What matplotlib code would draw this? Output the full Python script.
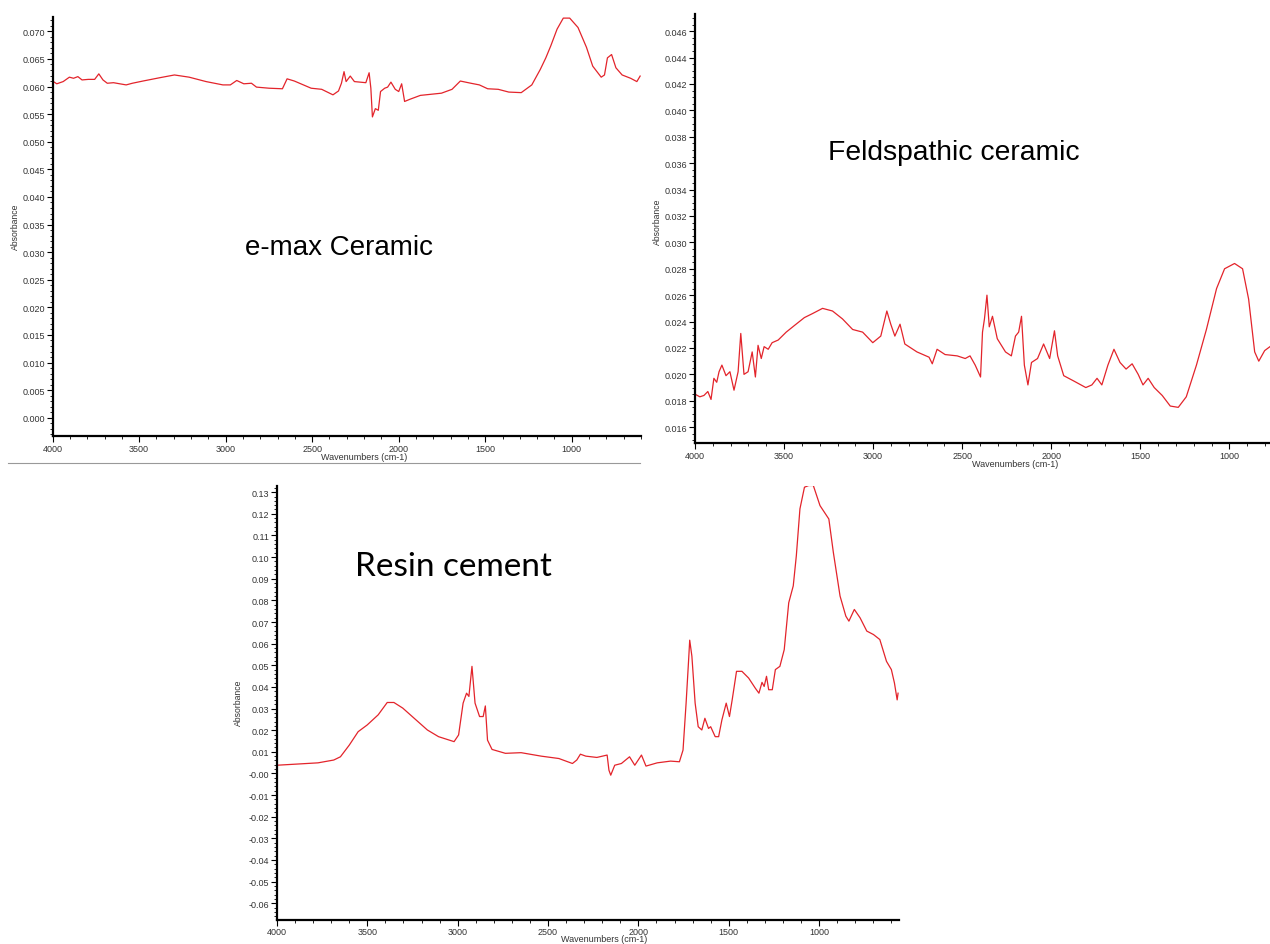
import matplotlib.pyplot as plt
from matplotlib.ticker import FixedLocator, FixedFormatter, MultipleLocator
from matplotlib.lines import Line2D

plt.rcParams['font.family'] = ['Liberation Sans', 'DejaVu Sans']

# e-max ceramic spectrum
wn1 = [4000, 3976, 3939, 3903, 3879, 3854, 3830, 3794, 3757, 3733,
       3709, 3684, 3648, 3612, 3575, 3539, 3478, 3381, 3296, 3211,
       3113, 3016, 2973, 2936, 2895, 2851, 2822, 2749, 2672, 2645,
       2603, 2506, 2445, 2380, 2348, 2331, 2316, 2304, 2280, 2256,
       2190, 2171, 2161, 2152, 2135, 2118, 2105, 2081, 2064, 2045,
       2020, 2000, 1983, 1966, 1935, 1875, 1753, 1692, 1644, 1583,
       1534, 1486, 1425, 1364, 1292, 1231, 1182, 1150, 1121, 1085,
       1049, 1012, 964, 915, 879, 830, 811, 794, 770, 745,
       709, 660, 624, 605]
ab1 = [0.0610, 0.0605, 0.0609, 0.0617, 0.0615, 0.0618, 0.0612, 0.0613, 0.0613, 0.0623,
       0.0612, 0.0606, 0.0607, 0.0605, 0.0603, 0.0606, 0.0610, 0.0616, 0.0621, 0.0617,
       0.0609, 0.0603, 0.0603, 0.0611, 0.0605, 0.0606, 0.0599, 0.0597, 0.0596, 0.0614,
       0.0610, 0.0597, 0.0595, 0.0585, 0.0592, 0.0606, 0.0627, 0.0609, 0.0619, 0.0609,
       0.0607, 0.0625, 0.0597, 0.0545, 0.0560, 0.0557, 0.0591, 0.0597, 0.0599, 0.0608,
       0.0595, 0.0591, 0.0605, 0.0573, 0.0577, 0.0584, 0.0588, 0.0595, 0.0610, 0.0606,
       0.0603, 0.0596, 0.0595, 0.0590, 0.0589, 0.0603, 0.0631, 0.0652, 0.0674, 0.0704,
       0.0724, 0.0724, 0.0707, 0.0671, 0.0637, 0.0617, 0.0621, 0.0652, 0.0658, 0.0634,
       0.0621, 0.0615, 0.0609, 0.0619]

# feldspathic ceramic spectrum
wn2 = [4000, 3973, 3950, 3928, 3910, 3894, 3878, 3865, 3849, 3826,
       3804, 3781, 3758, 3743, 3725, 3702, 3679, 3661, 3646, 3628,
       3612, 3589, 3567, 3533, 3488, 3442, 3386, 3341, 3284, 3228,
       3172, 3115, 3059, 3002, 2957, 2923, 2901, 2878, 2849, 2822,
       2754, 2686, 2668, 2641, 2596, 2528, 2483, 2456, 2427, 2397,
       2386, 2375, 2361, 2348, 2330, 2303, 2257, 2224, 2201, 2183,
       2167, 2151, 2131, 2111, 2077, 2043, 2009, 1982, 1964, 1930,
       1874, 1806, 1772, 1743, 1716, 1682, 1648, 1614, 1580, 1546,
       1512, 1485, 1456, 1422, 1377, 1332, 1287, 1242, 1185, 1129,
       1072, 1027, 971, 926, 892, 858, 835, 802, 772]
ab2 = [0.0185, 0.0183, 0.0184, 0.0187, 0.0181, 0.0197, 0.0194, 0.0202, 0.0207, 0.0199,
       0.0202, 0.0188, 0.0202, 0.0231, 0.0200, 0.0202, 0.0217, 0.0198, 0.0222, 0.0212,
       0.0221, 0.0219, 0.0224, 0.0226, 0.0232, 0.0237, 0.0243, 0.0246, 0.0250, 0.0248,
       0.0242, 0.0234, 0.0232, 0.0224, 0.0229, 0.0248, 0.0238, 0.0229, 0.0238, 0.0223,
       0.0217, 0.0213, 0.0208, 0.0219, 0.0215, 0.0214, 0.0212, 0.0214, 0.0207, 0.0198,
       0.0232, 0.0242, 0.0260, 0.0236, 0.0244, 0.0227, 0.0217, 0.0214, 0.0229, 0.0232,
       0.0244, 0.0207, 0.0192, 0.0209, 0.0212, 0.0223, 0.0212, 0.0233, 0.0214, 0.0199,
       0.0195, 0.0190, 0.0192, 0.0197, 0.0192, 0.0207, 0.0219, 0.0209, 0.0204, 0.0208,
       0.0200, 0.0192, 0.0197, 0.0190, 0.0184, 0.0176, 0.0175, 0.0183, 0.0207, 0.0234,
       0.0265, 0.0280, 0.0284, 0.0280, 0.0257, 0.0217, 0.0210, 0.0218, 0.0221]

# resin cement spectrum
wn3 = [4000, 3896, 3773, 3686, 3649, 3600, 3551, 3501, 3440, 3390,
       3353, 3304, 3230, 3168, 3106, 3020, 2995, 2970, 2951, 2938,
       2921, 2904, 2879, 2859, 2847, 2835, 2810, 2736, 2649, 2538,
       2440, 2365, 2341, 2321, 2291, 2230, 2173, 2163, 2153, 2131,
       2094, 2049, 2020, 1983, 1958, 1896, 1822, 1773, 1753, 1736,
       1723, 1716, 1704, 1686, 1669, 1649, 1632, 1612, 1600, 1575,
       1556, 1538, 1514, 1496, 1481, 1457, 1427, 1390, 1353, 1333,
       1316, 1304, 1291, 1279, 1259, 1242, 1217, 1193, 1168, 1143,
       1126, 1106, 1081, 1057, 1032, 995, 946, 921, 884, 852,
       835, 805, 773, 736, 699, 664, 627, 600, 583, 568, 563]
ab3 = [0.0038, 0.0043, 0.0049, 0.0062, 0.0077, 0.0131, 0.0193, 0.0224, 0.0271, 0.0328,
       0.0328, 0.0302, 0.0247, 0.0201, 0.0170, 0.0147, 0.0178, 0.0325, 0.0371, 0.0356,
       0.0495, 0.0325, 0.0263, 0.0263, 0.0312, 0.0154, 0.0111, 0.0093, 0.0096, 0.0080,
       0.0069, 0.0046, 0.0062, 0.0089, 0.0080, 0.0074, 0.0085, 0.0015, -0.0008, 0.0038,
       0.0046, 0.0077, 0.0038, 0.0085, 0.0034, 0.0049, 0.0057, 0.0054, 0.0108, 0.0325,
       0.0511, 0.0616, 0.0542, 0.0325, 0.0216, 0.0201, 0.0255, 0.0208, 0.0216, 0.0170,
       0.0170, 0.0247, 0.0325, 0.0263, 0.0340, 0.0472, 0.0472, 0.0441, 0.0394, 0.0371,
       0.0421, 0.0402, 0.0449, 0.0387, 0.0387, 0.0480, 0.0495, 0.0572, 0.0789, 0.0867,
       0.1006, 0.1223, 0.1323, 0.1331, 0.1331, 0.1238, 0.1176, 0.1021, 0.0820, 0.0727,
       0.0704, 0.0758, 0.0719, 0.0658, 0.0642, 0.0619, 0.0518, 0.0480, 0.0418, 0.0340, 0.0371]

xticks = [4000, 3500, 3000, 2500, 2000, 1500, 1000]
yticks1 = [0.000, 0.005, 0.010, 0.015, 0.020, 0.025, 0.030, 0.035,
           0.040, 0.045, 0.050, 0.055, 0.060, 0.065, 0.070]
ylabels1 = ['0.000', '0.005', '0.010', '0.015', '0.020', '0.025', '0.030', '0.035',
            '0.040', '0.045', '0.050', '0.055', '0.060', '0.065', '0.070']
yticks2 = [0.016, 0.018, 0.020, 0.022, 0.024, 0.026, 0.028, 0.030,
           0.032, 0.034, 0.036, 0.038, 0.040, 0.042, 0.044, 0.046]
ylabels2 = ['0.016', '0.018', '0.020', '0.022', '0.024', '0.026', '0.028', '0.030',
            '0.032', '0.034', '0.036', '0.038', '0.040', '0.042', '0.044', '0.046']
yticks3 = [-0.06, -0.05, -0.04, -0.03, -0.02, -0.01, 0.00, 0.01, 0.02, 0.03,
           0.04, 0.05, 0.06, 0.07, 0.08, 0.09, 0.10, 0.11, 0.12, 0.13]
ylabels3 = ['-0.06', '-0.05', '-0.04', '-0.03', '-0.02', '-0.01', '-0.00', '0.01', '0.02', '0.03',
            '0.04', '0.05', '0.06', '0.07', '0.08', '0.09', '0.10', '0.11', '0.12', '0.13']

W, H = 1270, 945
fig = plt.figure(figsize=(12.7, 9.45), dpi=100)

def box(x0, y0, x1, y1):
    return [x0 / W, 1 - y1 / H, (x1 - x0) / W, (y1 - y0) / H]

def ftext(x, y, s, **kw):
    fig.text(x / W, 1 - y / H, s, ha='center', va='center', **kw)

def panel(rect, wn, ab, xlim, ylim, yt, yl, yminor):
    ax = fig.add_axes(rect)
    ax.plot(wn, ab, color='#e3242b', lw=0.9)
    ax.set_xlim(*xlim)
    ax.set_ylim(*ylim)
    ax.xaxis.set_major_locator(FixedLocator(xticks))
    ax.xaxis.set_major_formatter(FixedFormatter([str(t) for t in xticks]))
    ax.xaxis.set_minor_locator(MultipleLocator(100))
    ax.yaxis.set_major_locator(FixedLocator(yt))
    ax.yaxis.set_major_formatter(FixedFormatter(yl))
    ax.yaxis.set_minor_locator(MultipleLocator(yminor))
    for s in ['top', 'right']:
        ax.spines[s].set_visible(False)
    for s in ['left', 'bottom']:
        ax.spines[s].set_linewidth(1.6)
    ax.tick_params(which='major', direction='out', length=4, width=0.8,
                   labelsize=6.5, labelcolor='#333333', pad=1.5)
    ax.tick_params(which='minor', direction='out', length=2, width=0.6)
    return ax

ax1 = panel(box(52.6, 18, 641, 437), wn1, ab1, (4000, 600), (-0.0033, 0.0726),
            yticks1, ylabels1, 0.001)
ax2 = panel(box(695, 15, 1270, 444), wn2, ab2, (4000, 772), (0.0148, 0.0473),
            yticks2, ylabels2, 0.0005)
ax3 = panel(box(277, 486.7, 898.6, 920.7), wn3, ab3, (4000, 560), (-0.0676, 0.133),
            yticks3, ylabels3, 0.002)

# axis titles
ftext(15, 227, 'Absorbance', rotation=90, fontsize=6.2, color='#333333')
ftext(657, 222, 'Absorbance', rotation=90, fontsize=6.2, color='#333333')
ftext(238, 703, 'Absorbance', rotation=90, fontsize=6.2, color='#333333')
ftext(364, 458, 'Wavenumbers (cm-1)', fontsize=6.5, color='#333333')
ftext(1015, 465, 'Wavenumbers (cm-1)', fontsize=6.5, color='#333333')
ftext(604, 940, 'Wavenumbers (cm-1)', fontsize=6.5, color='#333333')

# sample names
ftext(339, 248, 'e-max Ceramic', fontsize=20)
ftext(954, 153, 'Feldspathic ceramic', fontsize=20.3)
ftext(453, 567, 'Resin cement', fontsize=24, family=['Lato', 'DejaVu Sans'])

# frame line under the first screenshot
fig.add_artist(Line2D([8 / W, 640 / W], [1 - 464 / H, 1 - 464 / H], color='#999999', lw=0.8))

plt.savefig('out.png', dpi=100)
